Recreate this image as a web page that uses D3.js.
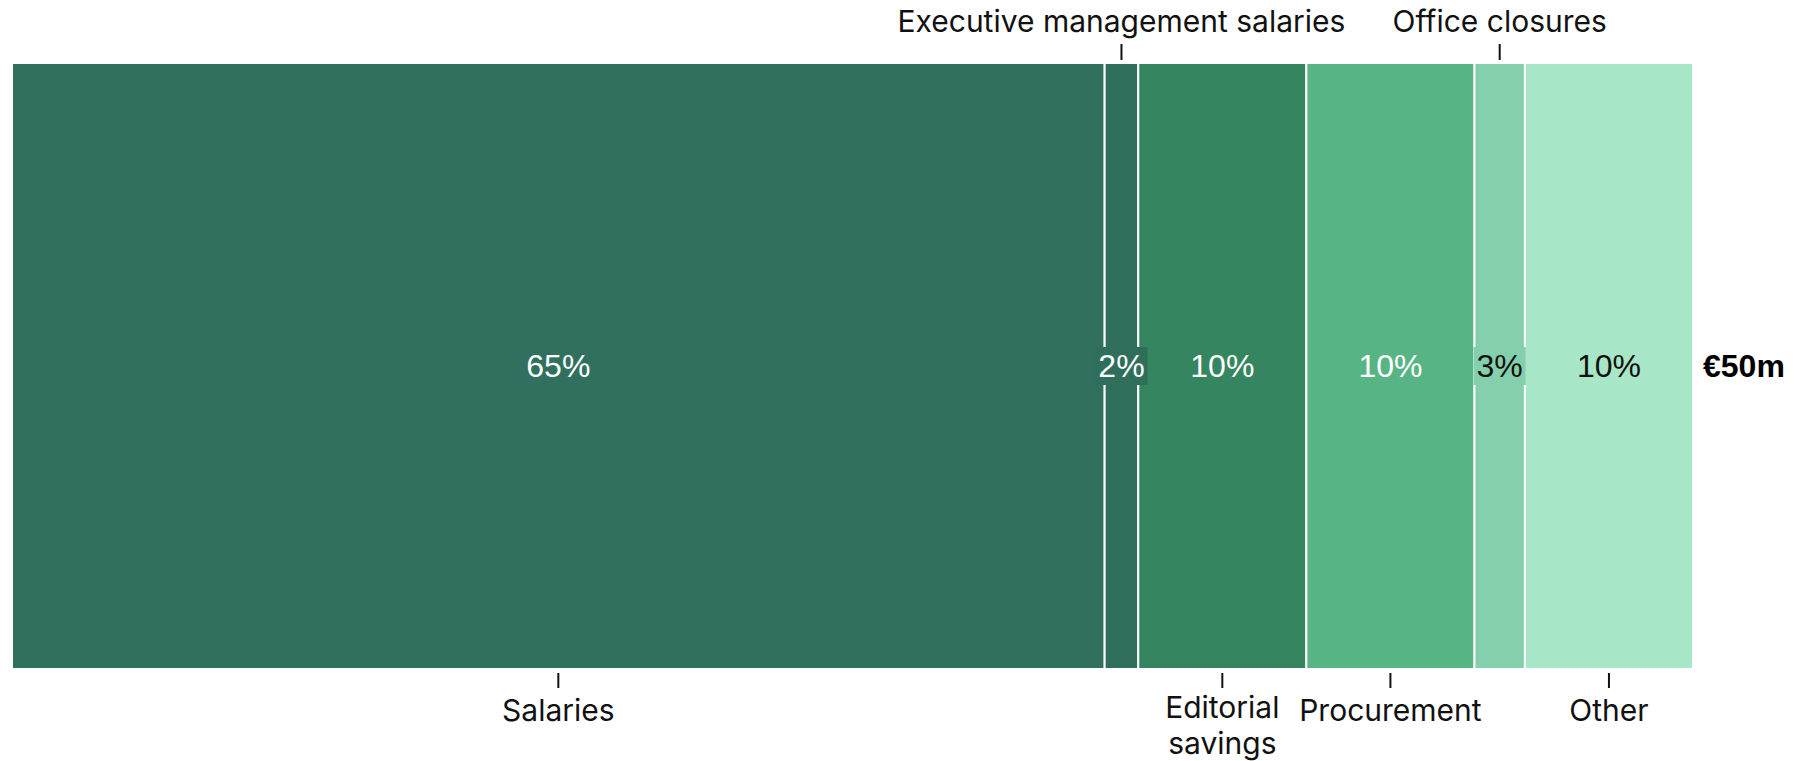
<!DOCTYPE html>
<html>
<head>
<meta charset="utf-8">
<script src="https://cdn.jsdelivr.net/npm/d3@7/dist/d3.min.js"></script>
<style>
  html, body { margin: 0; padding: 0; background: #ffffff; }
  svg { display: block; }
</style>
</head>
<body>
<svg id="chart" width="1801" height="761"></svg>
<script>
// Breakdown of the €50m savings plan
const categories = ["Salaries", "Executive management salaries", "Editorial savings", "Procurement", "Office closures", "Other"];
const shares = [65, 2, 10, 10, 3, 10];
const shareLabels = ["65%", "2%", "10%", "10%", "3%", "10%"];
const colors = ["#31705e", "#2e6e5b", "#358560", "#57b585", "#84cfac", "#a8e6c8"];
const labelColors = ["#ffffff", "#ffffff", "#ffffff", "#ffffff", "#111111", "#111111"];
const labelSide = ["bottom", "top", "bottom", "bottom", "top", "bottom"];
const totalLabel = "€50m";

const svg = d3.select("#chart");
const margin = { left: 12, right: 108, top: 63, bottom: 92 };
const W = +svg.attr("width"), H = +svg.attr("height");

const x = d3.scaleLinear()
  .domain([0, d3.sum(shares)])
  .range([margin.left, W - margin.right]);
const y0 = margin.top, y1 = H - margin.bottom;
const yMid = (y0 + y1) / 2;

const starts = d3.cumsum([0, ...shares.slice(0, -1)]);
const data = categories.map((c, i) => ({
  name: c, value: shares[i], start: starts[i], end: starts[i] + shares[i],
  label: shareLabels[i], fill: colors[i], text: labelColors[i], side: labelSide[i]
}));

// stacked segments
svg.append("g").selectAll("rect")
  .data(data).join("rect")
  .attr("x", d => x(d.start))
  .attr("y", y0)
  .attr("width", d => x(d.end) - x(d.start))
  .attr("height", y1 - y0)
  .attr("fill", d => d.fill)
  .attr("stroke", "#ffffff")
  .attr("stroke-width", 2);

// share labels with a backing plate in the segment colour
const pct = svg.append("g")
  .attr("font-family", "'Liberation Sans', Arial, sans-serif")
  .attr("font-size", 32);
const pg = pct.selectAll("g").data(data).join("g")
  .attr("transform", d => `translate(${(x(d.start) + x(d.end)) / 2},${yMid})`);
pg.append("text")
  .attr("text-anchor", "middle")
  .attr("dy", "0.35em")
  .attr("fill", d => d.text)
  .text(d => d.label);
pg.each(function(d) {
  const g = d3.select(this);
  const bb = g.select("text").node().getBBox();
  g.insert("rect", "text")
    .attr("x", bb.x - 3).attr("y", -19)
    .attr("width", bb.width + 6).attr("height", 38)
    .attr("fill", d.fill);
});

// total
svg.append("text")
  .attr("x", x.range()[1] + 10)
  .attr("y", yMid)
  .attr("dy", "0.35em")
  .attr("font-family", "'Liberation Sans', Arial, sans-serif")
  .attr("font-size", 32)
  .attr("font-weight", "bold")
  .attr("fill", "#000")
  .text(totalLabel);

// category annotations
const cat = svg.append("g")
  .attr("font-family", "Inter, 'Open Sans', sans-serif")
  .attr("font-size", 30)
  .attr("fill", "#111");

const aboveItems = data.filter(d => d.side === "top");
const belowItems = data.filter(d => d.side === "bottom");
const cx = d => (x(d.start) + x(d.end)) / 2;

cat.selectAll("line.above").data(aboveItems).join("line")
  .attr("class", "above")
  .attr("x1", cx).attr("x2", cx)
  .attr("y1", y0 - 19).attr("y2", y0 - 3)
  .attr("stroke", "#111").attr("stroke-width", 2);
cat.selectAll("text.above").data(aboveItems).join("text")
  .attr("class", "above")
  .attr("x", cx).attr("y", 32)
  .attr("text-anchor", "middle")
  .text(d => d.name);

cat.selectAll("line.below").data(belowItems).join("line")
  .attr("class", "below")
  .attr("x1", cx).attr("x2", cx)
  .attr("y1", y1 + 4).attr("y2", y1 + 19)
  .attr("stroke", "#111").attr("stroke-width", 2);

// bottom labels; multi-line names are drawn as separate text lines
const wrap = { "Editorial savings": ["Editorial", "savings"] };
const belowLines = belowItems.flatMap(d => {
  const lines = wrap[d.name] || [d.name];
  const base = lines.length > 1 ? 718 : 721;
  return lines.map((line, i) => ({ d, line, y: base + i * 36 }));
});
cat.selectAll("text.below").data(belowLines).join("text")
  .attr("class", "below")
  .attr("x", l => cx(l.d))
  .attr("y", l => l.y)
  .attr("text-anchor", "middle")
  .text(l => l.line);
</script>
</body>
</html>
